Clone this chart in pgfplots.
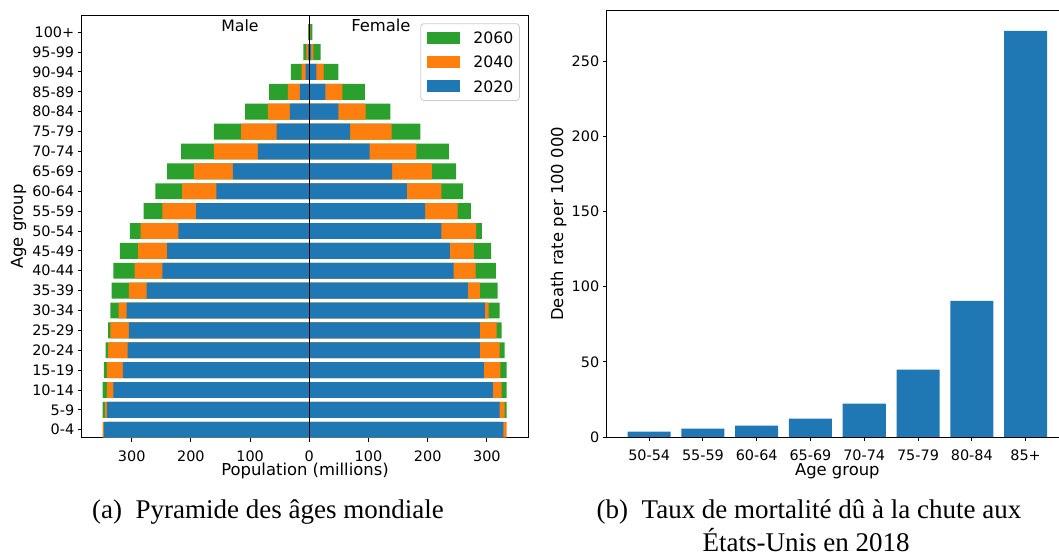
\documentclass[border=0pt]{standalone}
\usepackage{fontspec}
\setmainfont{Liberation Serif}
\newfontfamily\dv{DejaVu Sans}
\usepackage{pgfplots}
\pgfplotsset{compat=1.18}
\usepackage{pgfplotstable}

\definecolor{cC0}{HTML}{1F77B4}
\definecolor{cC1}{HTML}{FF7F0E}
\definecolor{cC2}{HTML}{2CA02C}

\newcommand\tf{\dv\fontsize{14.4}{17}\selectfont}
\newcommand\lf{\dv\fontsize{16.4}{19}\selectfont}
\newcommand\gf{\dv\fontsize{15.7}{18}\selectfont}
\newcommand\capfont{\fontsize{27}{35}\selectfont}

% World population by age group (millions): male / female for 2020, 2040, 2060
\pgfplotstableread{
g  m20   m40   m60   f20   f40   f60
0  347   349   340   328   333.5 320
1  342   345.5 349   321.5 330   333.5
2  331   342   349   310   325   333.5
3  315   342   347   295   323   333.5
4  307   340   344   288   321.5 330
5  305   336   340   288   316.5 325
6  308.5 322   336   296.5 303   321.5
7  275   305   334   268   288   318
8  248   295   331   244   281   315
9  240   289   320   237.5 278   307
10 221   285   303   223   282   291.5
11 191   248   280   195.5 250.5 273
12 157   215   260   165   223   260
13 129   195   240   140   207   248
14 87    161   216.5 102   181   236
15 55    115   161   69    139   187.5
16 33    70    108.5 49    95    137
17 16    36    68    27    56    94
18 6     13    31    12    24    49
19 2     5     10    3     7     19
20 0.5   1     2     1     2     5
}\pyramid

% Deaths from falls per 100 000, United States, 2018
\pgfplotstableread{
i rate
0 3.5
1 5.5
2 7.5
3 12.2
4 22.2
5 44.8
6 90.6
7 270
}\falls

\pgfplotsset{
  mpl/.style={
    scale only axis,
    axis line style={black, line width=0.9pt},
    tick align=outside,
    major tick length=4pt,
    every tick/.style={black, line width=0.9pt},
    xtick pos=bottom, ytick pos=left,
    tick label style={font=\tf},
    xticklabel style={inner sep=0pt, anchor=north, yshift=-9pt},
    label style={font=\lf, inner sep=0pt},
    /pgf/number format/assume math mode=true,
  },
}

\begin{document}
\begin{tikzpicture}[x=1pt,y=1pt]
\useasboundingbox (0,0) rectangle (1059,556);

\begin{axis}[mpl,
  at={(81.7pt,118.3pt)}, anchor=south west,
  width=446.6pt, height=422.4pt,
  xbar, bar width=0.8, bar shift=0pt,
  xmin=-384.5, xmax=370, ymin=-0.4, ymax=20.85,
  xtick={-300,-200,-100,0,100,200,300},
  xticklabels={300,200,100,0,100,200,300},
  ytick={0,...,20},
  yticklabels={0-4,5-9,10-14,15-19,20-24,25-29,30-34,35-39,40-44,45-49,50-54,55-59,60-64,65-69,70-74,75-79,80-84,85-89,90-94,95-99,100+},
  xlabel={Population (millions)},
  ylabel={Age group},
  xlabel style={at={(axis description cs:0.5,0)}, anchor=base, yshift=-38pt},
  ylabel style={at={(axis description cs:0,0.5)}, anchor=base, yshift=58.7pt},
  legend style={at={(0.981,0.981)}, anchor=north east, draw=black!20, line width=0.8pt,
    rounded corners=3pt, fill=white, font=\gf,
    inner xsep=6pt, inner ysep=8.2pt,
    nodes={inner sep=0pt, text height=11.5pt, text depth=0pt},
    row sep=12.2pt, column sep=13.7pt},
  legend cell align=left,
  legend image code/.code={\fill[#1, sharp corners] (0pt,-6pt) rectangle (33pt,6pt);},
]
\addplot[fill=cC2, draw=none] table[y=g, x expr=-\thisrow{m60}] {\pyramid};
\addlegendentry{2060}
\addplot[fill=cC2, draw=none, forget plot] table[y=g, x=f60] {\pyramid};
\addplot[fill=cC1, draw=none] table[y=g, x expr=-\thisrow{m40}] {\pyramid};
\addlegendentry{2040}
\addplot[fill=cC1, draw=none, forget plot] table[y=g, x=f40] {\pyramid};
\addplot[fill=cC0, draw=none] table[y=g, x expr=-\thisrow{m20}] {\pyramid};
\addlegendentry{2020}
\addplot[fill=cC0, draw=none, forget plot] table[y=g, x=f20] {\pyramid};
\addplot[sharp plot, no markers, black, line width=1.1pt, forget plot]
  coordinates {(0,-0.4) (0,20.85)};
\node[font=\gf, anchor=base] at (axis cs:-117,20.05) {Male};
\node[font=\lf, anchor=base] at (axis cs:121,20.05) {Female};
\end{axis}

\begin{axis}[mpl,
  at={(606.7pt,119pt)}, anchor=south west,
  width=461.3pt, height=426.3pt,
  ybar, bar width=0.8, bar shift=0pt,
  xmin=-0.79, xmax=7.79, ymin=0, ymax=283.5,
  xtick={0,...,7},
  xticklabels={50-54,55-59,60-64,65-69,70-74,75-79,80-84,85+},
  ytick={0,50,100,150,200,250},
  xlabel={Age group},
  ylabel={Death rate per 100 000},
  xlabel style={at={(axis description cs:0.5,0)}, anchor=base, yshift=-39pt},
  ylabel style={at={(axis description cs:0,0.5)}, anchor=base, yshift=43.7pt},
]
\addplot[fill=cC0, draw=none] table[x=i, y=rate] {\falls};
\end{axis}

\node[anchor=base, font=\capfont] at (268pt,37pt) {(a)\hspace{0.5em}Pyramide des âges mondiale};
\node[anchor=base, font=\capfont] at (809pt,37pt) {(b)\hspace{0.5em}Taux de mortalité dû à la chute aux};
\node[anchor=south, font=\capfont, inner sep=0pt, text depth=0pt] at (806pt,4pt) {États-Unis en 2018};
\end{tikzpicture}
\end{document}
